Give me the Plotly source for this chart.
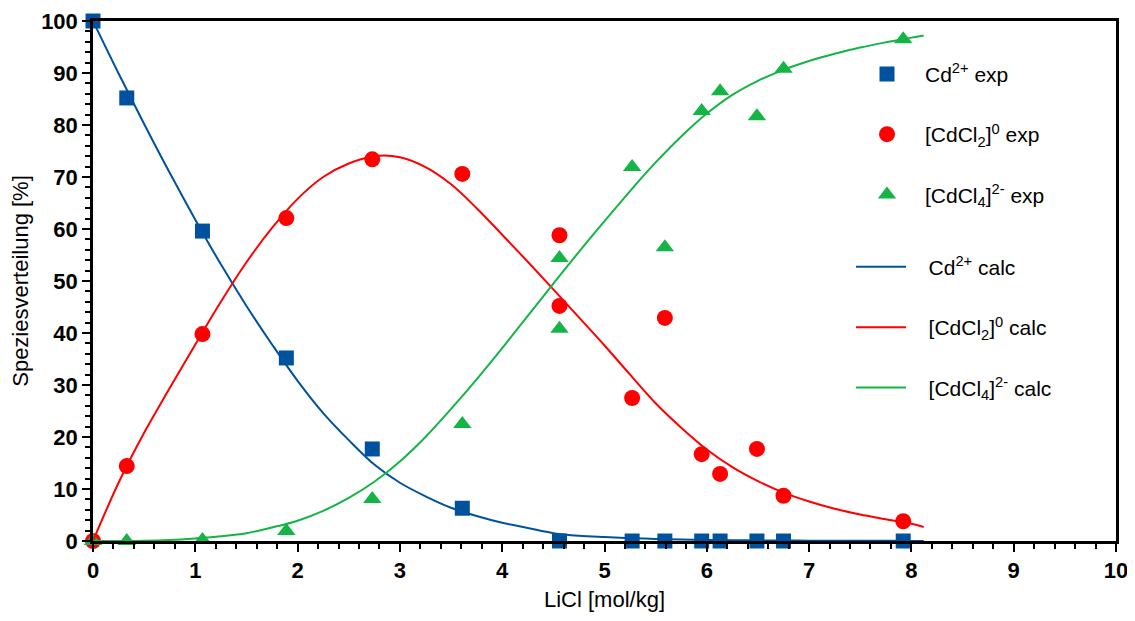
import plotly.graph_objects as go

# experimental data
x_cd = [0, 0.33, 1.07, 1.89, 2.73, 3.61, 4.56, 5.27, 5.59, 5.95, 6.13, 6.49, 6.75, 7.92]
y_cd = [100, 85.2, 59.6, 35.2, 17.7, 6.3, 0, 0, 0, 0, 0, 0, 0, 0]

x_cdcl2 = [0, 0.33, 1.07, 1.89, 2.73, 3.61, 4.56, 4.56, 5.27, 5.59, 5.95, 6.13, 6.49, 6.75, 7.92]
y_cdcl2 = [0, 14.4, 39.8, 62.1, 73.4, 70.6, 58.8, 45.2, 27.5, 42.9, 16.7, 12.9, 17.7, 8.7, 3.8]

x_cdcl4 = [0, 0.33, 1.07, 1.89, 2.73, 3.61, 4.56, 4.56, 5.27, 5.59, 5.95, 6.13, 6.49, 6.75, 7.92]
y_cdcl4 = [0, 0, 0.2, 1.9, 8.1, 22.5, 54.4, 40.8, 71.9, 56.5, 82.7, 86.5, 81.7, 90.8, 96.5]

# calculated curves
x_calc = [0, 0.25, 0.5, 0.75, 1.0, 1.25, 1.5, 1.75, 2.0, 2.25, 2.5, 2.75, 3.0, 3.25, 3.5,
          3.75, 4.0, 4.25, 4.5, 4.75, 5.0, 5.25, 5.5, 5.75, 6.0, 6.25, 6.5, 6.75, 7.0,
          7.25, 7.5, 7.75, 8.0, 8.12]
cd_calc = [100, 89.9, 80.2, 70.8, 61.8, 53.2, 45.2, 37.8, 30.8, 24.6, 19.4, 14.7, 11.2, 8.6,
           6.4, 4.8, 3.5, 2.5, 1.5, 1.0, 0.75, 0.55, 0.4, 0.3, 0.2, 0.16, 0.12, 0.09, 0.07,
           0.05, 0.04, 0.03, 0.02, 0.02]
cdcl2_calc = [0, 11.2, 20.8, 29.4, 37.8, 46.0, 53.6, 60.2, 65.8, 70.0, 72.6, 74.0, 73.8, 71.9,
              68.6, 64.0, 58.9, 53.7, 48.4, 43.0, 37.6, 32.0, 26.5, 21.8, 17.6, 14.2, 11.5,
              9.3, 7.6, 6.2, 5.1, 4.2, 3.3, 2.7]
cdcl4_calc = [0, 0.0, 0.05, 0.2, 0.5, 0.9, 1.5, 2.6, 3.9, 5.8, 8.3, 11.4, 15.3, 20.0, 25.4,
              31.1, 37.1, 43.3, 49.5, 55.6, 61.5, 67.3, 72.8, 77.8, 82.2, 85.8, 88.5, 90.6,
              92.3, 93.7, 94.9, 95.9, 96.8, 97.2]

BLUE = "#00529F"
RED = "#FF0000"
GREEN = "#14B446"
FONT = "Liberation Sans, Arial, sans-serif"
PAD = "\u00a0\u00a0\u00a0"

fig = go.Figure()

fig.add_trace(go.Scatter(x=x_cd, y=y_cd, mode="markers", name="Cd<sup>2+</sup> exp",
                         marker=dict(symbol="square", size=15, color=BLUE),
                         cliponaxis=False, legend="legend", legendgroup="a"))
fig.add_trace(go.Scatter(x=x_cdcl2, y=y_cdcl2, mode="markers", name="[CdCl<sub>2</sub>]<sup>0</sup> exp",
                         marker=dict(symbol="circle", size=16, color=RED),
                         cliponaxis=False, legend="legend", legendgroup="b"))
fig.add_trace(go.Scatter(x=x_cdcl4, y=y_cdcl4, mode="markers", name="[CdCl<sub>4</sub>]<sup>2-</sup> exp",
                         marker=dict(symbol="triangle-up", size=16, color=GREEN),
                         cliponaxis=False, legend="legend", legendgroup="c"))
fig.add_trace(go.Scatter(x=x_calc, y=cd_calc, mode="lines", name=PAD + "Cd<sup>2+</sup> calc",
                         line=dict(color=BLUE, width=2, shape="spline"),
                         legend="legend2", legendgroup="d"))
fig.add_trace(go.Scatter(x=x_calc, y=cdcl2_calc, mode="lines", name=PAD + "[CdCl<sub>2</sub>]<sup>0</sup> calc",
                         line=dict(color=RED, width=2, shape="spline"),
                         legend="legend2", legendgroup="e"))
fig.add_trace(go.Scatter(x=x_calc, y=cdcl4_calc, mode="lines", name=PAD + "[CdCl<sub>4</sub>]<sup>2-</sup> calc",
                         line=dict(color=GREEN, width=2, shape="spline"),
                         legend="legend2", legendgroup="f"))

axis_common = dict(
    showline=True, linecolor="black", linewidth=2.5, mirror=True,
    ticks="outside", ticklen=8, tickwidth=2, tickcolor="black",
    showgrid=False, zeroline=False, automargin=False,
    tickfont=dict(family=FONT, size=22, color="black", weight="bold"),
    title_font=dict(family=FONT, size=22, color="black"),
)

# the page body adds an 8px offset, so the figure is 8px smaller with trimmed margins
fig.update_layout(
    width=1127, height=613,
    margin=dict(l=85, r=19, t=13, b=80),
    plot_bgcolor="white", paper_bgcolor="white",
    xaxis=dict(range=[0, 10], dtick=1, title_text="LiCl [mol/kg]", title_standoff=10,
               minor=dict(dtick=0.2, ticks="outside", ticklen=5, tickwidth=1.5, tickcolor="black"),
               **axis_common),
    yaxis=dict(range=[0, 100], dtick=10, title_text="Speziesverteilung [%]", title_standoff=10,
               minor=dict(dtick=2, ticks="outside", ticklen=5, tickwidth=1.5, tickcolor="black"),
               **axis_common),
    legend=dict(x=0.739, y=0.937, xanchor="left", yanchor="top", bgcolor="rgba(0,0,0,0)",
                font=dict(family=FONT, size=21, color="black"), tracegroupgap=30,
                itemwidth=66),
    legend2=dict(x=0.741, y=0.566, xanchor="left", yanchor="top", bgcolor="rgba(0,0,0,0)",
                 font=dict(family=FONT, size=21, color="black"), tracegroupgap=30,
                 itemwidth=50),
)

fig.write_html("out.html")
